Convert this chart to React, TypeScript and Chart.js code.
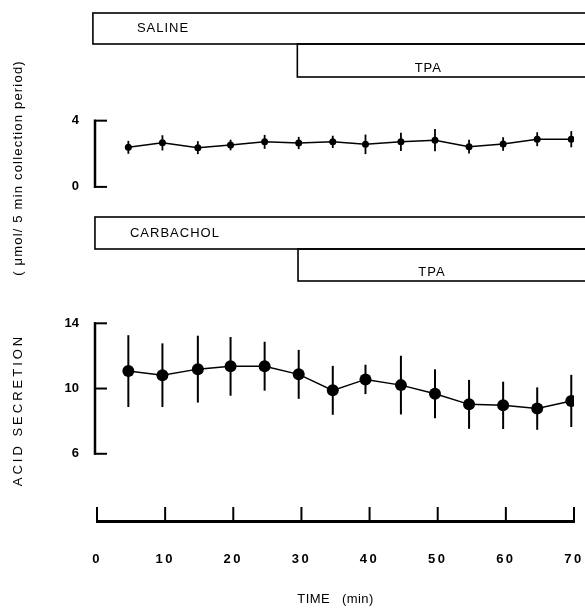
import React, { useEffect, useRef } from 'react';
import { Chart, registerables } from 'chart.js';

Chart.register(...registerables);

// ---------- data ----------
const times = [4.6, 9.6, 14.8, 19.6, 24.6, 29.6, 34.6, 39.4, 44.6, 49.6, 54.6, 59.6, 64.6, 69.6];
const salineMean = [2.39, 2.66, 2.37, 2.53, 2.72, 2.65, 2.72, 2.57, 2.72, 2.82, 2.43, 2.59, 2.88, 2.88];
const salineSem = [0.39, 0.46, 0.39, 0.32, 0.42, 0.37, 0.37, 0.59, 0.55, 0.67, 0.41, 0.41, 0.42, 0.49];
const carbacholMean = [11.07, 10.82, 11.19, 11.36, 11.37, 10.87, 9.89, 10.56, 10.21, 9.68, 9.03, 8.97, 8.77, 9.24];
const carbacholSem = [2.2, 1.95, 2.05, 1.8, 1.5, 1.5, 1.5, 0.9, 1.8, 1.5, 1.5, 1.45, 1.3, 1.6];

const xTicks = [0, 10, 20, 30, 40, 50, 60, 70];
const topTicks = [0, 4];
const bottomTicks = [6, 10, 14];

const topTreatments = ['SALINE', 'TPA'];
const topTreatmentStart = [-0.6, 29.4];
const bottomTreatments = ['CARBACHOL', 'TPA'];
const bottomTreatmentStart = [-0.3, 29.5];
const treatmentEnd = 73;

const xTitle = 'TIME   (min)';
const yTitleMain = 'ACID SECRETION';
const yTitleUnit = '( \u03bcmol/ 5 min collection period)';

// ---------- layout / style ----------
const FONT = '"Liberation Sans", Arial, Helvetica, sans-serif';
const W = 585;
const H = 608;
const AREA_LEFT = 97;
const AREA_RIGHT = 574;
const AREA_TOP = 0;
const AREA_BOTTOM = 521;
const X_AXIS_HEIGHT = 86;
const X_TITLE_Y = 599;
const TOP_PANEL = { lo: 0, hi: 4, pxLo: 183, pxHi: 116 };
const BOTTOM_PANEL = { lo: 6, hi: 14, pxLo: 453, pxHi: 321 };
const TOP_ROWS = [[13, 44], [44, 77]];
const BOTTOM_ROWS = [[217, 249], [249, 281]];
// label anchor: horizontal offset from box left, vertical fraction of box height
const TOP_LABEL_POS = [{ align: 'left', dx: 44, fy: 0.5 }, { align: 'center', dx: 131, fy: 0.73 }];
const BOTTOM_LABEL_POS = [{ align: 'left', dx: 35, fy: 0.52 }, { align: 'center', dx: 134, fy: 0.74 }];
const BRACKET_X = 95;

function axisRange(p: { lo: number; hi: number; pxLo: number; pxHi: number }) {
  const k = (p.pxLo - p.pxHi) / (p.hi - p.lo);
  return {
    min: p.lo - (AREA_BOTTOM - p.pxLo) / k,
    max: p.hi + (p.pxHi - AREA_TOP) / k,
  };
}

function drawTreatments(ctx: CanvasRenderingContext2D, xs: any, names: string[], starts: number[], rows: number[][], labelPos: any[]) {
  ctx.strokeStyle = '#000';
  ctx.fillStyle = '#000';
  ctx.lineWidth = 1.6;
  names.forEach((name, i) => {
    const x0 = xs.getPixelForValue(starts[i]);
    const x1 = xs.getPixelForValue(treatmentEnd);
    const [t, b] = rows[i];
    ctx.strokeRect(x0, t, x1 - x0, b - t);
    ctx.font = `13px ${FONT}`;
    (ctx as any).letterSpacing = '1px';
    ctx.textBaseline = 'middle';
    ctx.textAlign = labelPos[i].align;
    ctx.fillText(name, x0 + labelPos[i].dx, t + (b - t) * labelPos[i].fy);
  });
  (ctx as any).letterSpacing = '0px';
}

function drawBracket(ctx: CanvasRenderingContext2D, ys: any, ticks: number[]) {
  const lo = Math.min(...ticks);
  const hi = Math.max(...ticks);
  ctx.strokeStyle = '#000';
  ctx.fillStyle = '#000';
  ctx.lineCap = 'butt';
  ctx.lineWidth = 2.5;
  ctx.beginPath();
  ctx.moveTo(BRACKET_X, ys.getPixelForValue(hi) - 1);
  ctx.lineTo(BRACKET_X, ys.getPixelForValue(lo) + 1);
  ctx.stroke();
  ctx.lineWidth = 2;
  ctx.font = `bold 13px ${FONT}`;
  ctx.textAlign = 'right';
  ctx.textBaseline = 'middle';
  ticks.forEach((v) => {
    const py = ys.getPixelForValue(v);
    ctx.beginPath();
    ctx.moveTo(BRACKET_X - 1, py);
    ctx.lineTo(BRACKET_X + 12, py);
    ctx.stroke();
    ctx.fillText(String(v), BRACKET_X - 16, py);
  });
}

function drawErrorBars(ctx: CanvasRenderingContext2D, xs: any, ys: any, mean: number[], sem: number[], width: number) {
  ctx.strokeStyle = '#000';
  ctx.lineWidth = width;
  ctx.lineCap = 'butt';
  times.forEach((t, i) => {
    const px = xs.getPixelForValue(t);
    ctx.beginPath();
    ctx.moveTo(px, ys.getPixelForValue(mean[i] + sem[i]));
    ctx.lineTo(px, ys.getPixelForValue(mean[i] - sem[i]));
    ctx.stroke();
  });
}

const figurePlugin = {
  id: 'figureExtras',
  beforeDraw(chart: any) {
    // spaced-out digits of the time axis labels
    chart.ctx.letterSpacing = '2.5px';
  },
  beforeDatasetsDraw(chart: any) {
    const ctx: CanvasRenderingContext2D = chart.ctx;
    const xs = chart.scales.x;
    const yT = chart.scales.yTop;
    const yB = chart.scales.yBot;
    ctx.save();
    (ctx as any).letterSpacing = '0px';

    drawTreatments(ctx, xs, topTreatments, topTreatmentStart, TOP_ROWS, TOP_LABEL_POS);
    drawTreatments(ctx, xs, bottomTreatments, bottomTreatmentStart, BOTTOM_ROWS, BOTTOM_LABEL_POS);

    drawBracket(ctx, yT, topTicks);
    drawBracket(ctx, yB, bottomTicks);

    // upward tick marks on the time axis
    ctx.strokeStyle = '#000';
    ctx.lineWidth = 2;
    const axisY = xs.top;
    xTicks.forEach((v) => {
      const px = xs.getPixelForValue(v);
      ctx.beginPath();
      ctx.moveTo(px, axisY);
      ctx.lineTo(px, axisY - 14);
      ctx.stroke();
    });

    // x axis title
    ctx.fillStyle = '#000';
    ctx.textAlign = 'center';
    ctx.textBaseline = 'middle';
    ctx.font = `13px ${FONT}`;
    (ctx as any).letterSpacing = '0.4px';
    ctx.fillText(xTitle, (xs.left + xs.right) / 2, X_TITLE_Y);

    // y axis title (rotated)
    ctx.save();
    ctx.translate(18, 410);
    ctx.rotate(-Math.PI / 2);
    (ctx as any).letterSpacing = '3px';
    ctx.fillText(yTitleMain, 0, 0);
    ctx.restore();
    ctx.save();
    ctx.translate(18, 168);
    ctx.rotate(-Math.PI / 2);
    (ctx as any).letterSpacing = '1.2px';
    ctx.fillText(yTitleUnit, 0, 0);
    ctx.restore();
    (ctx as any).letterSpacing = '0px';

    drawErrorBars(ctx, xs, yT, salineMean, salineSem, 1.8);
    drawErrorBars(ctx, xs, yB, carbacholMean, carbacholSem, 2);
    ctx.restore();
  },
};

export default function App() {
  const canvasRef = useRef<HTMLCanvasElement | null>(null);

  useEffect(() => {
    const canvas = canvasRef.current;
    if (!canvas) return;
    const chart = new Chart(canvas, {
      type: 'line',
      data: {
        datasets: [
          {
            label: 'Saline',
            data: times.map((t, i) => ({ x: t, y: salineMean[i] })),
            yAxisID: 'yTop',
            borderColor: '#000',
            backgroundColor: '#000',
            borderWidth: 1.5,
            pointRadius: 3.5,
            pointBackgroundColor: '#000',
            pointBorderWidth: 0,
            tension: 0,
          },
          {
            label: 'Carbachol',
            data: times.map((t, i) => ({ x: t, y: carbacholMean[i] })),
            yAxisID: 'yBot',
            borderColor: '#000',
            backgroundColor: '#000',
            borderWidth: 1.5,
            pointRadius: 6,
            pointBackgroundColor: '#000',
            pointBorderWidth: 0,
            tension: 0,
          },
        ],
      },
      options: {
        responsive: false,
        animation: false,
        devicePixelRatio: 1,
        events: [],
        layout: {
          padding: {
            left: AREA_LEFT,
            right: W - AREA_RIGHT,
            top: AREA_TOP,
            bottom: H - AREA_BOTTOM - X_AXIS_HEIGHT,
          },
        },
        plugins: {
          legend: { display: false },
          tooltip: { enabled: false },
        },
        scales: {
          x: {
            type: 'linear',
            min: 0,
            max: 70,
            afterBuildTicks: (s: any) => {
              s.ticks = xTicks.map((v) => ({ value: v }));
            },
            afterFit: (s: any) => {
              s.height = X_AXIS_HEIGHT;
              s.paddingLeft = 0;
              s.paddingRight = 0;
            },
            grid: { display: true, drawOnChartArea: false, drawTicks: false },
            border: { display: true, color: '#000', width: 3 },
            ticks: {
              color: '#000',
              font: { family: FONT, size: 13, weight: 'bold' },
              padding: 31,
              maxRotation: 0,
              autoSkip: false,
            },
            title: { display: false, text: xTitle },
          },
          yTop: { type: 'linear', display: false, ...axisRange(TOP_PANEL) },
          yBot: { type: 'linear', display: false, ...axisRange(BOTTOM_PANEL) },
        },
      } as any,
      plugins: [figurePlugin],
    });
    return () => chart.destroy();
  }, []);

  return (
    <canvas
      ref={canvasRef}
      width={W}
      height={H}
      style={{ position: 'absolute', left: 0, top: 0, display: 'block', background: '#fff' }}
    />
  );
}
